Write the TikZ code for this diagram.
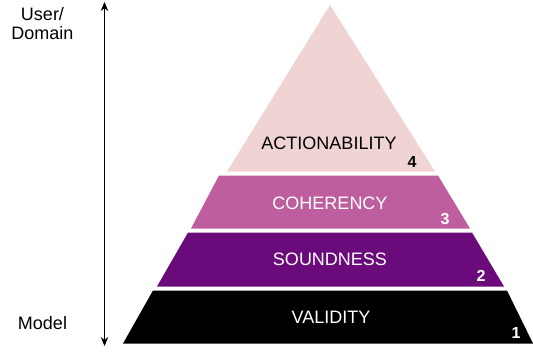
\documentclass[tikz,border=0pt]{standalone}
\usepackage{fontspec}
\setmainfont{Liberation Sans}
\usetikzlibrary{arrows.meta}
\definecolor{lvlA}{HTML}{F0D4D4}
\definecolor{lvlB}{HTML}{BE5E9E}
\definecolor{lvlC}{HTML}{6B0A7B}
\definecolor{lvlD}{HTML}{000000}
\tikzset{
  layertext/.style={font=\fontsize{18}{20}\selectfont, inner sep=0pt},
  numtext/.style={font=\fontsize{16}{18}\selectfont\bfseries, inner sep=0pt},
  sidetext/.style={font=\fontsize{18}{19}\selectfont, inner sep=0pt, align=center},
  axisarrow/.style={line width=0.8pt, {Stealth[length=9pt,width=7.5pt]}-{Stealth[length=9pt,width=7.5pt]}}
}
\begin{document}
\begin{tikzpicture}[x=1pt,y=-1pt]
\useasboundingbox (0,0) rectangle (533,351);
% layers
\fill[lvlA] (330,5) -- (435,171.5) -- (227,171.5) -- cycle;
\fill[lvlB] (219,175.5) -- (438,175.5) -- (470,228.5) -- (191,228.5) -- cycle;
\fill[lvlC] (188,232.5) -- (472,232.5) -- (504,286.5) -- (157,286.5) -- cycle;
\fill[lvlD] (153,290.5) -- (507,290.5) -- (533,343.5) -- (123,343.5) -- cycle;
% labels
\node[layertext, text=black] (act) at (329,143) {ACTIONABILITY};
\node[layertext, text=white] (coh) at (330,203) {COHERENCY};
\node[layertext, text=white] (sou) at (330,259) {SOUNDNESS};
\node[layertext, text=white] (val) at (331,317) {VALIDITY};
\node[numtext, text=black] (n4) at (412,162) {4};
\node[numtext, text=white] (n3) at (445,219) {3};
\node[numtext, text=white] (n2) at (481,276) {2};
\node[numtext, text=white] (n1) at (516,333) {1};
% axis
\coordinate (top) at (104.5,2);
\coordinate (bot) at (104.5,346);
\draw[axisarrow] (bot) -- (top);
\node[sidetext, anchor=north] (user) at (42.5,7) {User/\\Domain};
\node[sidetext] (model) at (42.5,323) {Model};
\end{tikzpicture}
\end{document}
